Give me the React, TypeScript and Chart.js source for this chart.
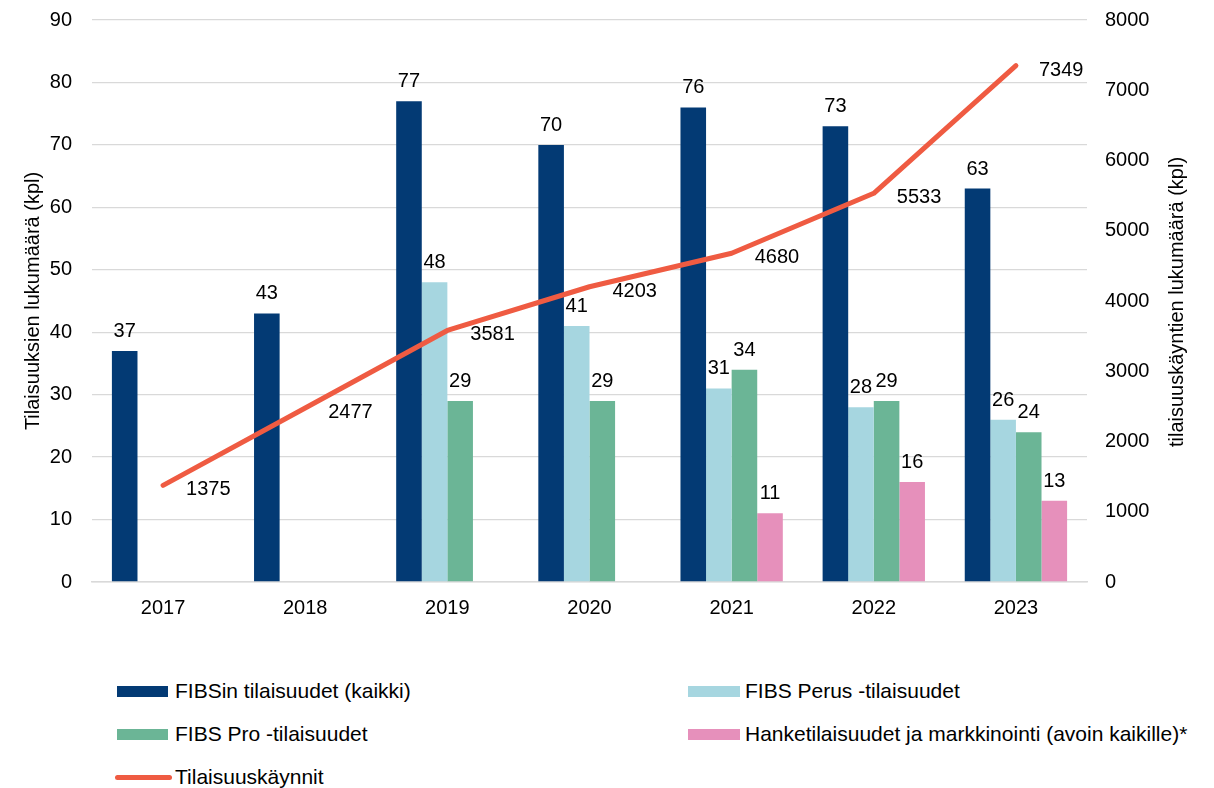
import React, { useEffect, useRef } from "react";
import { Chart, registerables } from "chart.js";

Chart.register(...registerables);

const FONT = "'Liberation Sans', Arial, sans-serif";

const years = ["2017", "2018", "2019", "2020", "2021", "2022", "2023"];
const fibsAll = [37, 43, 77, 70, 76, 73, 63];
const fibsPerus = [null, null, 48, 41, 31, 28, 26];
const fibsPro = [null, null, 29, 29, 34, 29, 24];
const hanke = [null, null, null, null, 11, 16, 13];
const visits = [1375, 2477, 3581, 4203, 4680, 5533, 7349];

const leftTitle = "Tilaisuuksien lukumäärä (kpl)";
const rightTitle = "tilaisuuskäyntien lukumäärä (kpl)";

const labelAll = "FIBSin tilaisuudet (kaikki)";
const labelPerus = "FIBS Perus -tilaisuudet";
const labelPro = "FIBS Pro -tilaisuudet";
const labelHanke = "Hanketilaisuudet ja markkinointi (avoin kaikille)*";
const labelVisits = "Tilaisuuskäynnit";

const C_ALL = "#033a74";
const C_PERUS = "#a6d6e0";
const C_PRO = "#6bb596";
const C_HANKE = "#e690bb";
const C_LINE = "#ef5b42";
const C_GRID = "#d9d9d9";

const labelPlugin = {
  id: "valueLabels",
  afterDatasetsDraw(chart: any) {
    const ctx = chart.ctx;
    ctx.save();
    ctx.font = `20px ${FONT}`;
    ctx.fillStyle = "#000";
    chart.data.datasets.forEach((ds: any, di: number) => {
      const meta = chart.getDatasetMeta(di);
      meta.data.forEach((el: any, i: number) => {
        const v = ds.data[i];
        if (v === null || v === undefined) return;
        if (ds.type === "line") {
          ctx.textAlign = "left";
          ctx.textBaseline = "alphabetic";
          ctx.fillText(String(v), el.x + 23, el.y + 10);
        } else {
          ctx.textAlign = "center";
          ctx.textBaseline = "alphabetic";
          ctx.fillText(String(v), el.x, el.y - 14);
        }
      });
    });
    ctx.restore();
  },
};

const titlePlugin = {
  id: "axisTitles",
  afterDraw(chart: any) {
    const ctx = chart.ctx;
    const ca = chart.chartArea;
    const cy = (ca.top + ca.bottom) / 2;
    ctx.save();
    ctx.font = `20px ${FONT}`;
    ctx.fillStyle = "#000";
    ctx.textAlign = "center";
    ctx.textBaseline = "middle";
    ctx.save();
    ctx.translate(33, cy);
    ctx.rotate(-Math.PI / 2);
    ctx.fillText(leftTitle, 0, 0);
    ctx.restore();
    ctx.save();
    ctx.translate(1177, cy + 1);
    ctx.rotate(-Math.PI / 2);
    ctx.fillText(rightTitle, 0, 0);
    ctx.restore();
    ctx.restore();
  },
};

const CANVAS_SHIFT = 12;
const CANVAS_H = 640 + CANVAS_SHIFT;

export default function App() {
  const ref = useRef<HTMLCanvasElement>(null);

  useEffect(() => {
    const barCommon = {
      type: "bar" as const,
      yAxisID: "y",
      order: 2,
      categoryPercentage: 0.72,
      barPercentage: 1.0,
      borderWidth: 0,
    };
    const chart = new Chart(ref.current as HTMLCanvasElement, {
      type: "bar",
      data: {
        labels: years,
        datasets: [
          { ...barCommon, label: labelAll, data: fibsAll, backgroundColor: C_ALL },
          { ...barCommon, label: labelPerus, data: fibsPerus as any, backgroundColor: C_PERUS },
          { ...barCommon, label: labelPro, data: fibsPro as any, backgroundColor: C_PRO },
          { ...barCommon, label: labelHanke, data: hanke as any, backgroundColor: C_HANKE },
          {
            type: "line" as const,
            label: labelVisits,
            data: visits,
            yAxisID: "y1",
            order: 0,
            borderColor: C_LINE,
            backgroundColor: C_LINE,
            borderWidth: 5,
            pointRadius: 0,
            tension: 0,
            borderCapStyle: "round",
            borderJoinStyle: "round",
          } as any,
        ],
      },
      options: {
        responsive: false,
        animation: false,
        layout: { padding: { top: 7, left: 0, right: 0, bottom: 0 } },
        plugins: {
          legend: { display: false },
          tooltip: { enabled: false },
        },
        scales: {
          x: {
            grid: { display: false },
            border: { display: true, color: C_GRID, width: 1.5 },
            ticks: { color: "#000", font: { family: FONT, size: 20 }, padding: 6 },
            afterFit(scale: any) {
              scale.height = 58;
            },
          },
          y: {
            position: "left",
            min: 0,
            max: 90,
            ticks: {
              stepSize: 10,
              color: "#000",
              font: { family: FONT, size: 20 },
              padding: 20,
            },
            grid: { color: C_GRID, lineWidth: 1.3, drawTicks: false },
            border: { display: false },
            afterFit(scale: any) {
              scale.width = 92;
            },
          },
          y1: {
            position: "right",
            min: 0,
            max: 8000,
            ticks: {
              stepSize: 1000,
              color: "#000",
              font: { family: FONT, size: 20 },
              padding: 18,
              callback: (v: any) => String(v),
            },
            grid: { drawOnChartArea: false, drawTicks: false },
            border: { display: false },
            afterFit(scale: any) {
              scale.width = 127;
            },
          },
        },
      },
      plugins: [labelPlugin, titlePlugin],
    });
    return () => chart.destroy();
  }, []);

  const textStyle: React.CSSProperties = {
    position: "absolute",
    fontFamily: FONT,
    fontSize: 21,
    color: "#000",
    lineHeight: "24px",
    whiteSpace: "nowrap",
  };

  const swatch = (left: number, cy: number, w: number, color: string) => (
    <div
      style={{
        position: "absolute",
        left,
        top: cy - 5.5,
        width: w,
        height: 11,
        background: color,
      }}
    />
  );

  const text = (left: number, cy: number, s: string) => (
    <div style={{ ...textStyle, left, top: cy - 12 }}>{s}</div>
  );

  return (
    <div
      style={{
        position: "fixed",
        left: 0,
        top: 0,
        width: 1214,
        height: 788,
        background: "#fff",
        overflow: "hidden",
      }}
    >
      <canvas
        ref={ref}
        width={1214}
        height={CANVAS_H}
        style={{ position: "absolute", left: 0, top: -CANVAS_SHIFT, width: 1214, height: CANVAS_H }}
      />
      {swatch(117, 691, 51, C_ALL)}
      {text(175, 691, labelAll)}
      {swatch(688, 691, 52, C_PERUS)}
      {text(745, 691, labelPerus)}
      {swatch(117, 734, 51, C_PRO)}
      {text(175, 734, labelPro)}
      {swatch(688, 734, 52, C_HANKE)}
      {text(745, 734, labelHanke)}
      <div
        style={{
          position: "absolute",
          left: 115,
          top: 777 - 2.5,
          width: 57,
          height: 5,
          borderRadius: 3,
          background: C_LINE,
        }}
      />
      {text(175, 777, labelVisits)}
    </div>
  );
}
